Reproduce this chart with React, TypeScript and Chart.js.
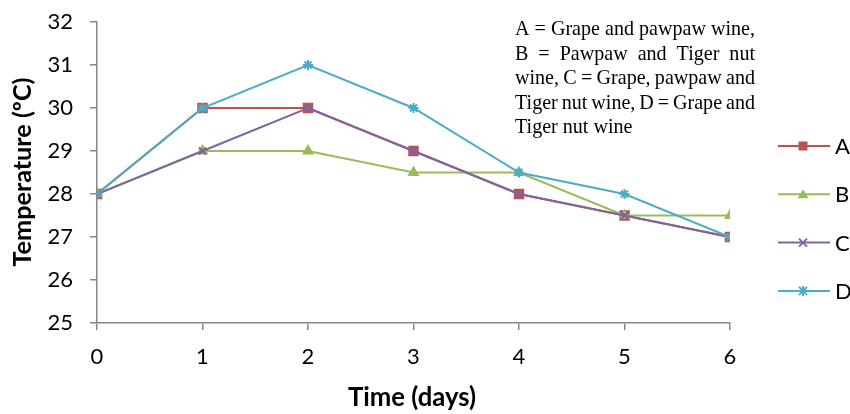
import React, { useEffect, useRef } from "react";
import { Chart, registerables } from "chart.js";

Chart.register(...registerables);

const days = [0, 1, 2, 3, 4, 5, 6];
const seriesNames = ["A", "B", "C", "D"];
const seriesA = [28, 30, 30, 29, 28, 27.5, 27];
const seriesB = [28, 29, 29, 28.5, 28.5, 27.5, 27.5];
const seriesC = [28, 29, 30, 29, 28, 27.5, 27];
const seriesD = [28, 30, 31, 30, 28.5, 28, 27];
const seriesColors = ["#C0504D", "#9BBB59", "#8064A2", "#4BACC6"];
const seriesMarkers = ["rect", "triangle", "crossRot", "star"];
const yMin = 25;
const yMax = 32;
const xTitle = "Time (days)";
const yTitle = "Temperature (ºC)";
const noteLines = [
  { text: "A = Grape and pawpaw wine,", justify: true },
  { text: "B = Pawpaw and Tiger nut", justify: true },
  { text: "wine, C = Grape, pawpaw and", justify: true },
  { text: "Tiger nut wine, D = Grape and", justify: true },
  { text: "Tiger nut wine", justify: false },
];

const FONT = "Lato, 'Open Sans', sans-serif";
const SERIF = "'Liberation Serif', 'DejaVu Serif', serif";

function drawMarker(ctx: CanvasRenderingContext2D, style: string, x: number, y: number, color: string) {
  ctx.save();
  ctx.fillStyle = color;
  ctx.strokeStyle = color;
  ctx.lineWidth = 2;
  if (style === "rect") {
    ctx.fillRect(x - 4.5, y - 4.5, 9, 9);
  } else if (style === "triangle") {
    ctx.beginPath();
    ctx.moveTo(x, y - 5);
    ctx.lineTo(x + 5.5, y + 4);
    ctx.lineTo(x - 5.5, y + 4);
    ctx.closePath();
    ctx.fill();
  } else if (style === "crossRot") {
    ctx.beginPath();
    ctx.moveTo(x - 4, y - 4);
    ctx.lineTo(x + 4, y + 4);
    ctx.moveTo(x + 4, y - 4);
    ctx.lineTo(x - 4, y + 4);
    ctx.stroke();
  } else {
    ctx.beginPath();
    ctx.moveTo(x - 4, y - 4);
    ctx.lineTo(x + 4, y + 4);
    ctx.moveTo(x + 4, y - 4);
    ctx.lineTo(x - 4, y + 4);
    ctx.moveTo(x, y - 5);
    ctx.lineTo(x, y + 5);
    ctx.stroke();
  }
  ctx.restore();
}

function fitFont(ctx: CanvasRenderingContext2D, text: string, target: number, weight: string, family: string) {
  const base = 20;
  ctx.font = `${weight} ${base}px ${family}`;
  const w = ctx.measureText(text).width;
  const size = (base * target) / w;
  ctx.font = `${weight} ${size}px ${family}`;
  return size;
}

const overlayPlugin = {
  id: "overlay",
  afterDraw(chart: any) {
    const ctx: CanvasRenderingContext2D = chart.ctx;
    ctx.save();
    // axis titles
    ctx.fillStyle = "#000";
    ctx.textAlign = "center";
    ctx.textBaseline = "middle";
    fitFont(ctx, xTitle, 128, "bold", FONT);
    ctx.fillText(xTitle, 412, 398);
    ctx.save();
    ctx.translate(23, 172);
    ctx.rotate(-Math.PI / 2);
    fitFont(ctx, yTitle, 189, "bold", FONT);
    ctx.fillText(yTitle, 0, 0);
    ctx.restore();

    // legend
    const legendY0 = 146;
    const legendStep = 48.3;
    ctx.font = `22px ${FONT}`;
    ctx.textAlign = "left";
    seriesNames.forEach((name, i) => {
      const y = legendY0 + i * legendStep;
      ctx.strokeStyle = seriesColors[i];
      ctx.lineWidth = 2;
      ctx.beginPath();
      ctx.moveTo(778, y);
      ctx.lineTo(830, y);
      ctx.stroke();
      drawMarker(ctx, seriesMarkers[i], 803, y, seriesColors[i]);
      ctx.fillStyle = "#000";
      ctx.fillText(name, 835, y + 1);
    });

    // note text (justified)
    const left = 515;
    const width = 240;
    const size = fitFont(ctx, noteLines[0].text, width, "normal", SERIF);
    ctx.font = `${Math.max(12, Math.min(22, size))}px ${SERIF}`;
    ctx.fillStyle = "#000";
    ctx.textBaseline = "middle";
    noteLines.forEach((ln, i) => {
      const y = 30 + i * 24.5;
      if (!ln.justify) {
        ctx.fillText(ln.text, left, y);
        return;
      }
      const words = ln.text.split(" ");
      const total = words.reduce((s, w) => s + ctx.measureText(w).width, 0);
      const gap = (width - total) / (words.length - 1);
      let x = left;
      words.forEach((w) => {
        ctx.fillText(w, x, y);
        x += ctx.measureText(w).width + gap;
      });
    });
    ctx.restore();
  },
};

export default function App() {
  const ref = useRef<HTMLCanvasElement | null>(null);
  useEffect(() => {
    if (!ref.current) return;
    const all = [seriesA, seriesB, seriesC, seriesD];
    const chart = new Chart(ref.current, {
      type: "line",
      data: {
        datasets: all.map((vals, i) => ({
          label: seriesNames[i],
          data: days.map((d, j) => ({ x: d, y: vals[j] })),
          borderColor: seriesColors[i],
          backgroundColor: seriesColors[i],
          pointBackgroundColor: seriesColors[i],
          pointBorderColor: seriesColors[i],
          pointStyle: seriesMarkers[i] as any,
          pointRadius: i === 0 ? 6 : 5,
          pointBorderWidth: 2,
          borderWidth: 2,
          tension: 0,
          order: 3 - i,
        })),
      },
      options: {
        animation: false,
        responsive: false,
        devicePixelRatio: 1,
        layout: { padding: { top: 22, right: 120, left: 0, bottom: 0 } },
        plugins: { legend: { display: false }, tooltip: { enabled: false } },
        scales: {
          x: {
            type: "linear",
            min: 0,
            max: 6,
            ticks: { stepSize: 1, color: "#000", font: { family: FONT, size: 22 }, padding: 14 },
            grid: { drawOnChartArea: false, drawTicks: true, tickLength: 7, color: "#878787", lineWidth: 1.5 },
            border: { color: "#878787", width: 1.5 },
            afterFit: (s: any) => {
              s.height = 91;
              s.paddingLeft = 0;
              s.paddingRight = 0;
            },
          },
          y: {
            min: yMin,
            max: yMax,
            ticks: { stepSize: 1, color: "#000", font: { family: FONT, size: 22 }, padding: 17 },
            grid: { drawOnChartArea: false, drawTicks: true, tickLength: 7, color: "#878787", lineWidth: 1.5 },
            border: { color: "#878787", width: 1.5 },
            afterFit: (s: any) => {
              s.width = 97;
              s.paddingTop = 0;
              s.paddingBottom = 0;
            },
          },
        },
      },
      plugins: [overlayPlugin],
    });
    return () => chart.destroy();
  }, []);
  return (
    <div style={{ position: "absolute", left: 0, top: 0, width: 850, height: 414, background: "#fff" }}>
      <canvas ref={ref} width={850} height={414} style={{ width: 850, height: 414 }} />
    </div>
  );
}
